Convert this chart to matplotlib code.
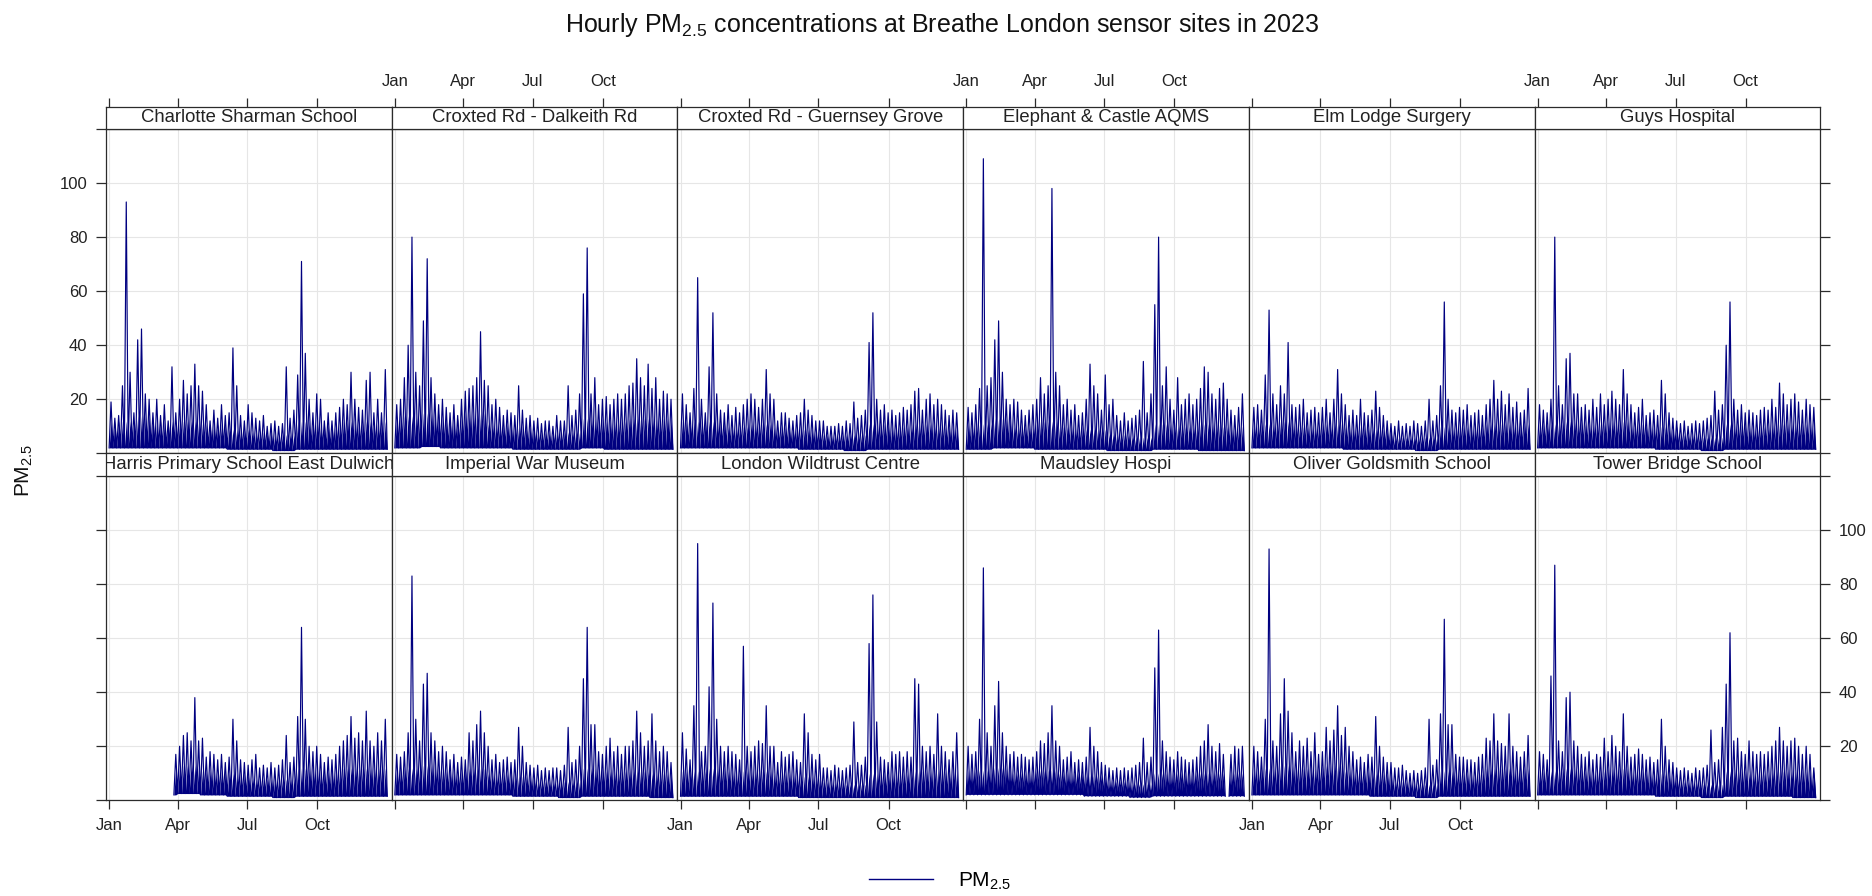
import numpy as np
import matplotlib
matplotlib.use("Agg")
import matplotlib.pyplot as plt
from matplotlib.lines import Line2D

plt.rcParams['font.family'] = ['Liberation Sans', 'DejaVu Sans']
plt.rcParams['mathtext.fontset'] = 'custom'
plt.rcParams['mathtext.rm'] = 'Liberation Sans'
plt.rcParams['mathtext.it'] = 'Liberation Sans:italic'
plt.rcParams['mathtext.default'] = 'regular'

nan = float('nan')

# ---------------- data (5-day maxima of hourly PM2.5) ----------------
sites = ["Charlotte Sharman School", "Croxted Rd - Dalkeith Rd", "Croxted Rd - Guernsey Grove",
         "Elephant & Castle AQMS", "Elm Lodge Surgery", "Guys Hospital",
         "Harris Primary School East Dulwich", "Imperial War Museum", "London Wildtrust Centre",
         "Maudsley Hospi", "Oliver Goldsmith School", "Tower Bridge School"]

charlotte_hi = [19, 13, 14, 25, 93, 30, 15, 42, 46, 22, 20, 15, 20, 14, 18, 12, 32, 15, 20, 27,
                22, 25, 33, 25, 23, 18, 12, 16, 13, 18, 14, 15, 39, 25, 14, 12, 18, 15, 13, 12,
                14, 10, 11, 12, 10, 11, 32, 13, 16, 29, 71, 37, 20, 15, 22, 20, 12, 15, 12, 15,
                17, 20, 18, 30, 20, 17, 16, 27, 30, 15, 20, 15, 31]
dalkeith_hi = [18, 20, 28, 40, 80, 30, 25, 49, 72, 28, 22, 18, 20, 17, 15, 18, 14, 20, 23, 24,
               25, 28, 45, 27, 25, 18, 20, 17, 14, 16, 15, 14, 25, 16, 13, 14, 12, 13, 11, 12,
               12, 10, 14, 12, 12, 25, 14, 16, 22, 59, 76, 22, 28, 18, 20, 21, 18, 20, 22, 20,
               22, 25, 26, 35, 28, 25, 33, 24, 28, 20, 23, 22, 20]
guernsey_hi = [22, 18, 15, 24, 65, 20, 15, 32, 52, 22, 16, 15, 18, 14, 17, 15, 18, 20, 22, 20,
               17, 20, 31, 22, 20, 12, 15, 15, 13, 12, 14, 15, 20, 16, 14, 12, 12, 12, 10, 10,
               10, 11, 10, 12, 11, 19, 13, 14, 16, 41, 52, 20, 16, 18, 15, 16, 14, 15, 17, 16,
               18, 23, 24, 16, 20, 22, 18, 20, 18, 16, 14, 16, 15]
elephant_hi = [17, 15, 18, 24, 109, 25, 28, 42, 49, 30, 20, 18, 20, 19, 16, 14, 16, 18, 20, 28,
               22, 25, 98, 30, 25, 18, 20, 16, 18, 14, 15, 20, 33, 25, 22, 16, 29, 18, 20, 14,
               12, 15, 12, 13, 14, 16, 34, 15, 22, 55, 80, 25, 32, 20, 16, 28, 18, 20, 22, 18,
               20, 24, 32, 30, 22, 20, 24, 26, 20, 16, 14, 17, 22]
elm_hi = [17, 18, 16, 29, 53, 22, 18, 25, 22, 41, 18, 17, 18, 20, 15, 16, 17, 15, 17, 20,
          15, 20, 31, 22, 18, 14, 16, 14, 20, 15, 14, 16, 23, 17, 14, 12, 11, 10, 12, 10,
          11, 10, 12, 11, 10, 12, 20, 12, 14, 25, 56, 20, 16, 15, 17, 16, 18, 14, 15, 16,
          14, 18, 20, 27, 20, 23, 18, 22, 17, 19, 15, 16, 24]
guys_hi = [18, 16, 15, 20, 80, 25, 18, 35, 37, 22, 22, 17, 18, 16, 20, 17, 22, 18, 20, 23,
           20, 18, 31, 22, 18, 15, 17, 20, 14, 15, 16, 14, 27, 22, 15, 13, 12, 11, 12, 10,
           11, 12, 11, 12, 13, 14, 23, 16, 18, 40, 56, 20, 16, 18, 15, 16, 15, 14, 16, 17,
           16, 20, 17, 26, 22, 18, 20, 22, 19, 16, 20, 18, 17]
harris_hi = [nan, nan, nan, nan, nan, nan, nan, nan, nan, nan, nan, nan, nan, nan, nan, nan, nan, 17, 20, 24,
             25, 22, 38, 22, 23, 16, 18, 17, 15, 17, 14, 16, 30, 22, 15, 14, 13, 15, 17, 12,
             13, 12, 14, 12, 13, 15, 24, 14, 16, 31, 64, 30, 20, 18, 20, 17, 14, 16, 15, 17,
             20, 22, 24, 31, 23, 25, 22, 33, 22, 20, 25, 22, 30]
imperial_hi = [17, 16, 18, 25, 83, 30, 22, 43, 47, 25, 22, 18, 20, 18, 15, 17, 14, 16, 15, 25,
               22, 28, 33, 25, 20, 15, 17, 14, 15, 16, 14, 15, 27, 20, 14, 13, 12, 13, 11, 12,
               11, 12, 12, 11, 13, 27, 14, 15, 20, 45, 64, 28, 28, 18, 17, 20, 23, 18, 20, 17,
               20, 20, 22, 33, 25, 20, 22, 32, 22, 18, 20, 18, 14]
wildtrust_hi = [25, 19, 15, 35, 95, 18, 20, 42, 73, 30, 20, 18, 20, 18, 17, 15, 57, 20, 18, 20,
                22, 21, 35, 20, 20, 14, 18, 16, 17, 18, 15, 14, 32, 25, 17, 15, 17, 12, 12, 11,
                13, 12, 11, 12, 13, 29, 14, 13, 16, 58, 76, 29, 16, 15, 14, 18, 17, 18, 16, 18,
                16, 45, 43, 20, 18, 20, 17, 32, 20, 18, 15, 18, 25]
maudsley_hi = [20, 17, 18, 30, 86, 25, 20, 35, 44, 25, 20, 17, 18, 16, 17, 16, 15, 16, 18, 22,
               21, 25, 35, 22, 20, 15, 16, 18, 14, 15, 14, 16, 27, 20, 18, 14, 13, 12, 11, 12,
               11, 12, 11, 12, 13, 14, 23, 14, 16, 49, 63, 22, 18, 16, 15, 18, 16, 15, 14, 15,
               16, 20, 22, 28, 20, 18, 21, 17, nan, 17, 20, 19, 20]
oliver_hi = [20, 18, 16, 30, 93, 22, 20, 32, 45, 33, 25, 18, 22, 20, 23, 18, 25, 17, 18, 27,
             22, 26, 35, 24, 27, 20, 18, 15, 16, 14, 17, 16, 31, 20, 16, 14, 14, 12, 12, 13,
             11, 10, 11, 10, 11, 12, 30, 13, 15, 32, 67, 28, 28, 17, 16, 16, 15, 15, 14, 16,
             17, 23, 22, 32, 22, 21, 20, 32, 20, 18, 16, 18, 24]
tower_hi = [18, 17, 15, 46, 87, 22, 18, 38, 40, 22, 20, 17, 16, 18, 15, 17, 16, 23, 18, 24,
            20, 18, 32, 20, 16, 17, 19, 17, 15, 16, 14, 15, 30, 20, 15, 14, 12, 11, 12, 11,
            10, 12, 11, 12, 13, 26, 14, 15, 27, 43, 62, 22, 23, 18, 17, 22, 18, 17, 18, 17,
            18, 20, 22, 27, 22, 20, 22, 23, 20, 17, 20, 17, 12]

# monthly lower edge of the hourly band
charlotte_lo = [2, 2, 2, 2, 2, 1.5, 1.5, 1, 1.5, 1.5, 1.5, 1.5]
dalkeith_lo = [2, 2.5, 2, 2, 2, 1.5, 1.5, 1.5, 2, 1.5, 1.5, 1.5]
guernsey_lo = [2, 2, 2, 2, 2, 1.5, 1.5, 1, 1.5, 1.5, 1.5, 1.5]
elephant_lo = [1.5, 2, 2, 1.5, 1.5, 1.5, 1, 1, 1.5, 1.5, 1, 1]
elm_lo = [2, 2, 2, 2, 1.5, 1.5, 1.5, 1, 1.5, 1.5, 1.5, 1.5]
guys_lo = [2, 2, 2, 2, 2, 1.5, 1.5, 1, 1.5, 1.5, 1.5, 1.5]
harris_lo = [2, 2, 2, 2.5, 2, 1.5, 1.5, 1, 1.5, 1.5, 1.5, 1.5]
imperial_lo = [2, 2, 2, 2, 2, 1.5, 1.5, 1, 1.5, 1.5, 1.5, 1]
wildtrust_lo = [1.5, 1.5, 1.5, 1.5, 1.5, 1, 1, 1, 1, 1, 1, 1]
maudsley_lo = [2, 2, 2, 2, 2, 1.5, 1.5, 1, 1.5, 1.5, 1.5, 1.5]
oliver_lo = [2, 2, 2, 2, 2, 1.5, 1.5, 1, 1.5, 1.5, 1.5, 1.5]
tower_lo = [2, 2, 2, 2, 2, 1.5, 1.5, 1, 1.5, 1.5, 1.5, 1]

# monthly upper edge of the dense hourly band
charlotte_band = [12, 14, 12, 12, 11, 9, 8, 7, 12, 11, 12, 12]
dalkeith_band = [14, 15, 13, 15, 11, 10, 8, 8, 13, 12, 13, 13]
guernsey_band = [12, 12, 10, 11, 10, 9, 7, 7, 11, 10, 11, 10]
elephant_band = [11, 13, 10, 12, 10, 9, 7, 6, 11, 10, 11, 10]
elm_band = [11, 12, 10, 11, 10, 9, 6, 6, 10, 10, 11, 11]
guys_band = [11, 12, 11, 12, 11, 10, 7, 6, 11, 10, 11, 11]
harris_band = [nan, nan, 12, 13, 11, 10, 8, 8, 12, 11, 12, 12]
imperial_band = [12, 13, 11, 12, 10, 9, 7, 7, 12, 11, 11, 10]
wildtrust_band = [11, 12, 11, 11, 10, 9, 7, 6, 10, 10, 11, 11]
maudsley_band = [11, 12, 10, 11, 10, 9, 7, 6, 10, 10, 10, 10]
oliver_band = [12, 13, 12, 13, 11, 10, 7, 6, 11, 10, 12, 12]
tower_band = [11, 12, 11, 12, 11, 10, 7, 6, 11, 10, 11, 11]

site_hi = [charlotte_hi, dalkeith_hi, guernsey_hi, elephant_hi, elm_hi, guys_hi,
           harris_hi, imperial_hi, wildtrust_hi, maudsley_hi, oliver_hi, tower_hi]
site_lo = [charlotte_lo, dalkeith_lo, guernsey_lo, elephant_lo, elm_lo, guys_lo,
           harris_lo, imperial_lo, wildtrust_lo, maudsley_lo, oliver_lo, tower_lo]
site_band = [charlotte_band, dalkeith_band, guernsey_band, elephant_band, elm_band, guys_band,
             harris_band, imperial_band, wildtrust_band, maudsley_band, oliver_band, tower_band]

bin_days = 5
month_start_days = [0, 31, 59, 90, 120, 151, 181, 212, 243, 273, 304, 334]
month_labels = ["Jan", "Apr", "Jul", "Oct"]
month_days = [0, 90, 181, 273]
y_ticks = [0, 20, 40, 60, 80, 100, 120]
y_ticklabels = ["", "20", "40", "60", "80", "100", ""]


def month_of(day):
    return max(0, np.searchsorted(month_start_days, day, side="right") - 1)


def zigzag(hi, lo_month, band_month):
    """Line alternating between the lower edge (bin edges) and the 5-day maximum (bin centre)."""
    hi = np.asarray(hi, float)
    n = len(hi)
    xs, ys, bs, ls = [], [], [], []
    for i in range(n):
        d0 = i * bin_days
        m = month_of(d0)
        valid = (not np.isnan(hi[i])) or (i > 0 and not np.isnan(hi[i - 1]))
        xs += [d0, d0 + bin_days / 2]
        ys += [lo_month[m] if valid else nan, hi[i]]
        bs += [band_month[m], band_month[m]]
        ls += [lo_month[m], lo_month[m]]
    xs.append(n * bin_days)
    ys.append(lo_month[11] if not np.isnan(hi[-1]) else nan)
    bs.append(band_month[11])
    ls.append(lo_month[11])
    return np.array(xs), np.array(ys), np.array(bs, float), np.array(ls, float)


W, H = 1872, 896
fig = plt.figure(figsize=(W / 100, H / 100), dpi=100)
fig.patch.set_facecolor("white")


def fax(x0, ytop, w, h):
    return fig.add_axes([x0 / W, 1 - (ytop + h) / H, w / W, h / H])


left0 = 106.0
col_w = 285.7
panel_h = 324.3
strip_h = 22.5
panel_tops = [129.0, 476.0]
xlim = (-4.1, 370.9)
line_col = "#000080"
edge_col = "#2b2b2b"
grid_col = "#e6e6e6"

for r in range(2):
    for c in range(6):
        k = r * 6 + c
        x0 = left0 + c * col_w
        ptop = panel_tops[r]
        ax = fax(x0, ptop, col_w, panel_h)
        xs, ys, bs, ls = zigzag(site_hi[k], site_lo[k], site_band[k])
        # dense body of the hourly trace: area under the trace, up to the band edge
        top = np.minimum(ys, bs)
        ax.fill_between(xs, ls, top, where=~np.isnan(top), color=line_col, lw=0,
                        alpha=1.0, interpolate=False)
        ax.plot(xs, ys, color=line_col, lw=0.85)
        ax.set_xlim(*xlim)
        ax.set_ylim(0, 120)
        ax.set_xticks(month_days)
        ax.set_xticklabels(month_labels)
        ax.set_yticks(y_ticks)
        ax.set_yticklabels(y_ticklabels)
        ax.grid(True, color=grid_col, lw=0.8)
        ax.set_axisbelow(True)
        for s in ax.spines.values():
            s.set_color(edge_col)
            s.set_linewidth(0.9)
        ax.tick_params(axis="y", left=(c == 0), right=(c == 5),
                       labelleft=(c == 0 and r == 0), labelright=(c == 5 and r == 1),
                       direction="out", length=7.5, width=0.9, color=edge_col,
                       labelsize=12, pad=6, labelcolor="#222222")
        ax.tick_params(axis="x", bottom=(r == 1), top=False,
                       labelbottom=(r == 1 and c % 2 == 0), labeltop=False,
                       direction="out", length=6.5, width=0.9, color=edge_col,
                       labelsize=12, pad=6, labelcolor="#222222")

        sax = fax(x0, ptop - strip_h, col_w, strip_h)
        sax.set_xlim(*xlim)
        sax.set_ylim(0, 1)
        sax.set_yticks([])
        sax.set_xticks(month_days)
        sax.set_xticklabels(month_labels)
        sax.tick_params(axis="x", top=(r == 0), bottom=False,
                        labeltop=(r == 0 and c % 2 == 1), labelbottom=False,
                        direction="out", length=6.5, width=0.9, color=edge_col,
                        labelsize=12, pad=6, labelcolor="#222222")
        for s in sax.spines.values():
            s.set_color(edge_col)
            s.set_linewidth(0.9)
        sax.text(0.5, 0.5, sites[k], transform=sax.transAxes, ha="center", va="center",
                 fontsize=13.3, color="#222222", clip_on=True)

fig.text(942 / W, 1 - 25 / H, "Hourly PM$_{2.5}$ concentrations at Breathe London sensor sites in 2023",
         ha="center", va="center", fontsize=18, color="#111111")
fig.text(24 / W, 1 - 470 / H, "PM$_{2.5}$", rotation=90, ha="center", va="center",
         fontsize=15, color="#111111")

fig.legend(handles=[Line2D([], [], color=line_col, lw=1.0)], labels=["PM$_{2.5}$"],
           loc="center", bbox_to_anchor=(940 / W, 1 - 881 / H), frameon=False,
           fontsize=15, handlelength=3.1, handletextpad=1.2)

fig.savefig("out.png", dpi=100, facecolor="white")
